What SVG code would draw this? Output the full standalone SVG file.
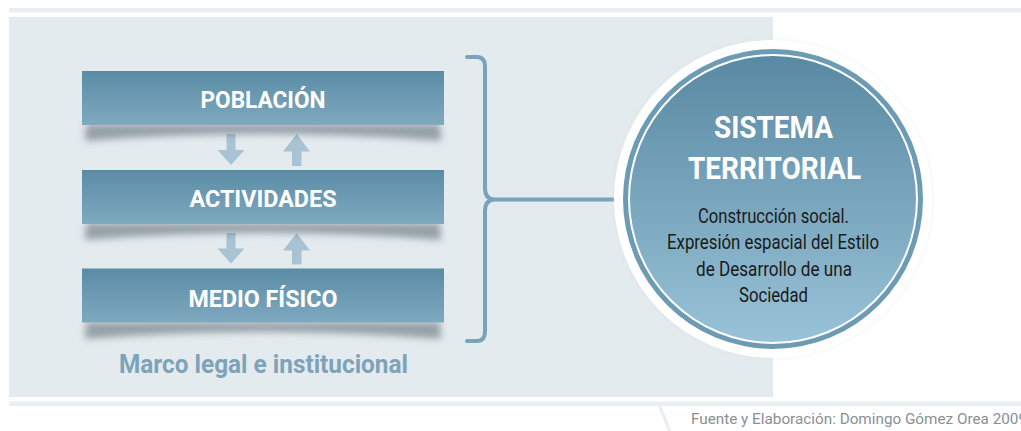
<svg xmlns="http://www.w3.org/2000/svg" width="1021" height="431" viewBox="0 0 1021 431">
<style>
.box{fill:url(#boxg)}
.lbl{font-family:Roboto,"Liberation Sans",sans-serif;font-weight:700;fill:#ffffff;font-size:24.5px}
.arr{fill:#a9c3d2}
.br{fill:none;stroke:#7aa3b9;stroke-width:4;stroke-linecap:round;stroke-linejoin:round}
.sh{fill:#4a5660;opacity:0.5;filter:url(#blur)}
.body{font-family:Roboto,"Liberation Sans",sans-serif;font-size:19.5px;fill:#1a1a1a}
</style>
<defs>
<linearGradient id="boxg" x1="0" y1="0" x2="0" y2="1">
<stop offset="0" stop-color="#5b8ca6"/>
<stop offset="1" stop-color="#7fa9bf"/>
</linearGradient>
<linearGradient id="circg" x1="0" y1="0" x2="0" y2="1">
<stop offset="0" stop-color="#5a89a3"/>
<stop offset="1" stop-color="#98c2d7"/>
</linearGradient>
<filter id="blur" x="-10%" y="-100%" width="120%" height="300%">
<feGaussianBlur stdDeviation="3.5"/>
</filter>
<filter id="halo" x="-20%" y="-20%" width="140%" height="140%">
<feGaussianBlur stdDeviation="2"/>
</filter>
</defs>
<rect width="1021" height="431" fill="#ffffff"/>
<rect x="9" y="8" width="1012" height="4.5" fill="#e8eef2"/>
<rect x="9" y="17" width="764" height="380" fill="#e4ebef"/>
<rect x="9" y="401.5" width="1012" height="4.5" fill="#e8eef2"/>
<path d="M659 405 L670 431" stroke="#e8edf0" stroke-width="3" fill="none"/>
<text x="691" y="424" font-family="Roboto,'Liberation Sans',sans-serif" font-size="14" fill="#8a8f94" textLength="336" lengthAdjust="spacingAndGlyphs">Fuente y Elaboración: Domingo Gómez Orea 2009</text>

<g id="connectors">
<path class="br" d="M467 57 L477 57 Q485 57 485 67 L485 188 Q485 199.5 495 199.5 L628 199.5 M495 199.5 Q485 199.5 485 211 L485 331 Q485 341 477 341 L467 341"/>
<g id="arrows1">
<path class="arr" d="M226.5 134 H235.5 V150 H244.5 L231 165 L217.5 150 H226.5 Z"/>
<path class="arr" d="M292 166 H301.5 V151.5 H310 L296.7 134 L283 151.5 H292 Z"/>
</g>
<g id="arrows2">
<path class="arr" d="M226.5 233 H235.5 V248.5 H244.5 L231 263.5 L217.5 248.5 H226.5 Z"/>
<path class="arr" d="M292 264.5 H301.5 V250.5 H310 L296.7 233 L283 250.5 H292 Z"/>
</g>
</g>

<g id="poblacion">
<path class="sh" d="M86 124 L440 124 L441 141 Q263 127 85 141 Z"/>
<rect class="box" x="82" y="71" width="362" height="54"/>
<text class="lbl" x="263" y="108.3" text-anchor="middle" textLength="125" lengthAdjust="spacingAndGlyphs">POBLACIÓN</text>
</g>
<g id="actividades">
<path class="sh" d="M86 223 L440 223 L441 240 Q263 226 85 240 Z"/>
<rect class="box" x="82" y="170" width="362" height="54"/>
<text class="lbl" x="263" y="207.3" text-anchor="middle" textLength="147" lengthAdjust="spacingAndGlyphs">ACTIVIDADES</text>
</g>
<g id="medio">
<path class="sh" d="M86 322 L440 322 L441 339 Q263 325 85 339 Z"/>
<rect class="box" x="82" y="268.5" width="362" height="54"/>
<text class="lbl" x="263" y="306.5" text-anchor="middle" textLength="149" lengthAdjust="spacingAndGlyphs">MEDIO FÍSICO</text>
</g>
<g id="marco">
<text x="263.5" y="373.3" text-anchor="middle" font-family="Roboto,'Liberation Sans',sans-serif" font-weight="700" font-size="25.5" fill="#7ea3b8" textLength="289" lengthAdjust="spacingAndGlyphs">Marco legal e institucional</text>
</g>

<g id="sistema">
<circle cx="773" cy="199" r="160" fill="#d5dfe5" opacity="0.3" filter="url(#halo)"/>
<circle cx="773" cy="199" r="159" fill="#ffffff"/>
<circle cx="773" cy="199" r="150" fill="#6d9bb3"/>
<circle cx="773" cy="199" r="145" fill="#ffffff"/>
<circle cx="773" cy="199" r="143" fill="url(#circg)"/>
<text x="773.5" y="138" text-anchor="middle" font-family="Roboto,'Liberation Sans',sans-serif" font-weight="700" font-size="32" fill="#ffffff" textLength="119" lengthAdjust="spacingAndGlyphs">SISTEMA</text>
<text x="774.5" y="179" text-anchor="middle" font-family="Roboto,'Liberation Sans',sans-serif" font-weight="700" font-size="32" fill="#ffffff" textLength="173" lengthAdjust="spacingAndGlyphs">TERRITORIAL</text>
<text class="body" x="773.5" y="222.7" text-anchor="middle" textLength="151" lengthAdjust="spacingAndGlyphs">Construcción social.</text>
<text class="body" x="773" y="249" text-anchor="middle" textLength="212" lengthAdjust="spacingAndGlyphs">Expresión espacial del Estilo</text>
<text class="body" x="774" y="275.5" text-anchor="middle" textLength="156" lengthAdjust="spacingAndGlyphs">de Desarrollo de una</text>
<text class="body" x="773.5" y="301.5" text-anchor="middle" textLength="69" lengthAdjust="spacingAndGlyphs">Sociedad</text>
</g>
</svg>
